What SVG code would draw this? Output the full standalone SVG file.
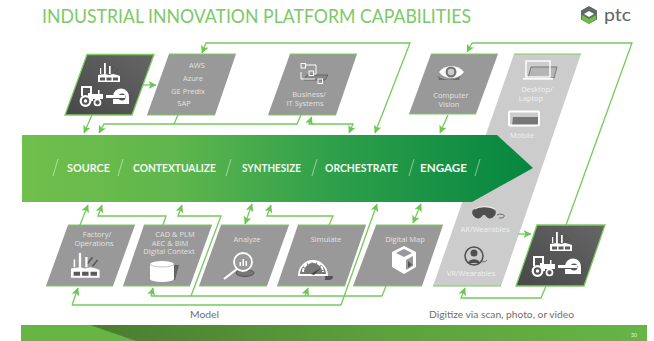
<svg xmlns="http://www.w3.org/2000/svg" width="654" height="341" viewBox="0 0 654 341">
<style>
.lbl{font-family:"Open Sans","Liberation Sans",sans-serif;font-size:7.500px;fill:#e2e2e2;text-anchor:middle}
.lt{fill:#f0f0f0}
.stage{font-family:Lato,"Liberation Sans",sans-serif;font-size:11px;font-weight:700;fill:#f4f9f1}
.cap{font-family:Lato,"Open Sans",sans-serif;font-size:9.500px;fill:#6e6e6e}
.edge{fill:none;stroke:#7ccb62;stroke-width:1.200}
.con path{fill:none;stroke:#74c95b;stroke-width:1.300;marker-end:url(#ah)}
.con path.n{marker-end:none}
.con path.b{marker-start:url(#ahs)}
.w{fill:#fff}
.wl{fill:none;stroke:#fff}
.s{fill:#555}
.sl{fill:none;stroke:#555}
.sld{fill:none;stroke:#fff;stroke-width:.8;opacity:.6}
</style>
<defs>
<marker id="ah" viewBox="0 0 8 8" refX="7.500" refY="4" markerWidth="8" markerHeight="8" markerUnits="userSpaceOnUse" orient="auto"><path d="M0 0L8 4L0 8L2 4Z" fill="#6cc653"/></marker>
<marker id="ahs" viewBox="0 0 8 8" refX="0.500" refY="4" markerWidth="8" markerHeight="8" markerUnits="userSpaceOnUse" orient="auto"><path d="M8 0L0 4L8 8L6 4Z" fill="#6cc653"/></marker>
<linearGradient id="band" x1="0" x2="1" y1="0" y2="0"><stop offset="0" stop-color="#71bf4b"/><stop offset=".3" stop-color="#5fb64c"/><stop offset=".6" stop-color="#2fa04a"/><stop offset="1" stop-color="#058640"/></linearGradient>
<linearGradient id="dark" x1="0" x2="1" y1="1" y2="0"><stop offset="0" stop-color="#484848"/><stop offset="1" stop-color="#666"/></linearGradient>
<linearGradient id="foot" x1="0" x2="1" y1="0" y2="0"><stop offset="0" stop-color="#4a7c30"/><stop offset=".5" stop-color="#5ba03c"/><stop offset="1" stop-color="#66b545"/></linearGradient>
<g id="factory">
<path class="s" d="M12 8l4-5 1 .6-4 5zM16 10l4-5 1 .6-4 5z"/>
<path class="w" d="M6 0h1.800v11H6zM11 3h1.700v8H11zM2 5h1.200v6H2zM0 19v-7l7-1 4 1 4-1 4 1 3 1v6z"/>
<path d="M2 14.500h5v3H2zM8.500 14.500h5v3h-5zM15 14.500h5v3h-5z" fill="#5a5a5a"/>
</g>
<g id="tractor">
<path class="s" d="M20 3l4 1.500-1 1.500-3-1.500z"/>
<path class="w" d="M2 0h11v8h6V4h1.500v4H24v5H14v2H9V7H4v3H2z"/>
<path d="M4 2h7v5H4z" fill="#555"/>
<circle cx="6.500" cy="15" r="4.800" fill="#555" stroke="#fff" stroke-width="2.200"/><circle cx="6.500" cy="15" r="1.700" class="w"/>
<circle cx="18.500" cy="16.500" r="3" fill="#555" stroke="#fff" stroke-width="1.700"/>
</g>
<g id="mri">
<path class="s" d="M20 3l7 3-3 10h-5z"/>
<path class="w" d="M7 16V8a8 8 0 0 1 16 1v7z"/>
<circle cx="16" cy="9" r="3.500" fill="#555"/>
<path class="w" d="M0 7h19v3H0z"/><path d="M0 10h14v1H0z" fill="#555"/>
</g>
</defs>
<rect width="654" height="341" fill="#fff"/>
<text x="42" y="22.500" font-family="Lato,'Open Sans',sans-serif" font-size="19" fill="#7cc968" textLength="429" lengthAdjust="spacingAndGlyphs">INDUSTRIAL INNOVATION PLATFORM CAPABILITIES</text>
<g id="ptc-logo">
<path d="M589 6l8 4.500v9L589 24l-8-4.500v-9z" fill="#5f6a66"/>
<path d="M582 15l7 4 7-4v4.500l-7 4.500-7-4.500z" fill="#6cbd45"/>
<path d="M584 14l5-3 5 3-5 3z" fill="#fff"/>
<text x="604" y="20.500" font-family="Lato,'Open Sans',sans-serif" font-size="18" fill="#5d6663" textLength="27" lengthAdjust="spacingAndGlyphs">ptc</text>
</g>
<g id="node-devices">
<path d="M514 54h67L501 286h-68z" fill="#ccc"/>
<path class="edge" d="M514 54h67M433 286h68"/>
<path d="M531 67h26l-3 11h-26z" fill="#b5b5b5" stroke="#666" stroke-width=".8"/>
<rect x="526" y="61" width="24" height="16" class="wl" stroke-width="1.400"/>
<rect x="523" y="78" width="30" height="1.600" class="w"/>
<path d="M513 117h27l-3 9h-25z" fill="#777"/>
<rect x="509" y="111.500" width="30" height="14" rx="1" class="wl" stroke-width="2"/>
<text class="lbl lt" x="537" y="92">Desktop/</text><text class="lbl lt" x="531" y="100.500">Laptop</text>
<text class="lbl lt" x="522" y="138">Mobile</text>
<path class="sl" d="M497 215a4 2 0 1 1 2 3" stroke-width=".8"/>
<path d="M473 210c6-4 16-4 22 0 2 3 0 6-3 8-3 1-5 0-7-3h-2c-2 3-4 4-7 3-3-2-5-5-3-8z" fill="#4f4f4f"/>
<path d="M475 209c5-3 15-3 20 0" class="wl" stroke-width=".8"/>
<text class="lbl lt" x="485" y="232">AR/Wearables</text>
<circle cx="474" cy="256" r="9" fill="#ccc" stroke="#4f4f4f" stroke-width="1.500"/>
<circle cx="474" cy="253" r="3.500" fill="#4f4f4f"/><path d="M468 263c1-5 11-5 12 0z" fill="#4f4f4f"/>
<path class="sl" d="M482 262a5 3 0 0 0 5-2" stroke-width=".8"/>
<text class="lbl lt" x="471" y="276">VR/Wearables</text>
</g>
<g id="node-arrow">
<path d="M22 135H497L533 168 472 202H22z" fill="url(#band)"/>
<g class="sld"><path d="M53 176l5-17M118 176l5-17M226 176l5-17M312 176l5-17M409 176l5-17M475 176l5-17"/></g>
<text class="stage" x="67" y="172" textLength="43" lengthAdjust="spacingAndGlyphs">SOURCE</text>
<text class="stage" x="133" y="172" textLength="83" lengthAdjust="spacingAndGlyphs">CONTEXTUALIZE</text>
<text class="stage" x="242" y="172" textLength="59" lengthAdjust="spacingAndGlyphs">SYNTHESIZE</text>
<text class="stage" x="325" y="172" textLength="73" lengthAdjust="spacingAndGlyphs">ORCHESTRATE</text>
<text class="stage" x="420" y="172" textLength="47" lengthAdjust="spacingAndGlyphs">ENGAGE</text>
</g>
<g id="node-assets-top">
<path d="M87 54.500h67l-22 60.500H65z" fill="url(#dark)" stroke="#7ccb62" stroke-width="1.300"/>
<use href="#factory" x="98" y="63"/><use href="#tractor" x="79" y="86"/><use href="#mri" x="106" y="88"/>
</g>
<g id="node-cloud">
<path d="M169 54h67l-21 61h-68z" fill="#999"/><path class="edge" d="M169 54h67M147 115h68"/>
<text class="lbl" x="197" y="68">AWS</text><text class="lbl" x="193" y="81">Azure</text><text class="lbl" x="188" y="94">GE Predix</text><text class="lbl" x="184" y="106">SAP</text>
</g>
<g id="node-business">
<path d="M290 54h67l-21 61h-68z" fill="#999"/><path class="edge" d="M290 54h67M269 115h67"/>
<path d="M307 75h21l-3 5h-21z" fill="#888" stroke="#555" stroke-width=".7"/>
<g class="wl" stroke-width="1"><rect x="301" y="63.500" width="4.500" height="4.500"/><rect x="309" y="71" width="4.500" height="4.500"/><rect x="318" y="79" width="4.500" height="4.500"/><path d="M306 65h10v9h-2M301 72v7h14"/></g>
<text class="lbl" x="309" y="97">Business/</text><text class="lbl" x="305" y="106">IT Systems</text>
</g>
<g id="node-vision">
<path d="M431 54h67l-22 60h-67z" fill="#999"/><path class="edge" d="M431 54h67M409 114h67"/>
<path d="M438 76c5 5 17 5 22 0l-1 4h-20z" fill="#555" opacity=".7"/>
<path class="w" d="M439 72c6-8 19-8 25 0-6 8-19 8-25 0z"/>
<circle cx="451" cy="72" r="5.500" fill="#777"/><circle cx="451" cy="72" r="3.200" fill="#ccc"/>
<text class="lbl" x="451" y="98">Computer</text><text class="lbl" x="449" y="107">Vision</text>
</g>
<g id="node-factory">
<path d="M68 225h67l-22 61H46z" fill="#999"/><path class="edge" d="M68 225h67M46 286h67"/>
<use href="#factory" transform="translate(71 253) scale(1.300)"/>
<text class="lbl" x="97" y="237">Factory/</text><text class="lbl" x="94" y="246">Operations</text>
</g>
<g id="node-cad">
<path d="M144 225h68l-22 61h-67z" fill="#999"/><path class="edge" d="M144 225h68M123 286h67"/>
<path class="s" d="M172 265h7l-4 15h-4z" opacity=".8"/>
<path class="w" d="M150 264a12 3 0 0 1 24 0v15a12 3 0 0 1-24 0z"/><path d="M150 264a12 3 0 0 0 24 0" fill="none" stroke="#999" stroke-width=".6"/>
<text class="lbl" x="175" y="237">CAD &amp; PLM</text><text class="lbl" x="170" y="245.500">AEC &amp; BIM</text><text class="lbl" x="169" y="254">Digital Context</text>
</g>
<g id="node-analyze">
<path d="M221 225h68l-22 61h-68z" fill="#999"/><path class="edge" d="M221 225h68M199 286h68"/>
<ellipse cx="245" cy="273" rx="9" ry="3.500" fill="#777" stroke="#555" stroke-width="1"/>
<circle cx="243" cy="262" r="9" fill="#999" stroke="#fff" stroke-width="1.800"/>
<path class="w" d="M239.500 262h1.500v4h-1.500zM242.500 259h1.500v7h-1.500zM245.500 261h1.500v5h-1.500z"/>
<path d="M237 269l-13 10" stroke="#fff" stroke-width="2.200"/>
<text class="lbl" x="247" y="242">Analyze</text>
</g>
<g id="node-simulate">
<path d="M298 225h68l-21 61h-68z" fill="#999"/><path class="edge" d="M298 225h68M277 286h68"/>
<path d="M325 276h8a4 4 0 0 1 -4 4h-4z" fill="#555"/>
<path d="M299 275a14 14 0 0 1 28 0z" fill="#777" stroke="#fff" stroke-width="1.800"/>
<path d="M303 272a10 10 0 0 1 20 0" fill="none" stroke="#fff" stroke-width="2" stroke-dasharray="4 1"/>
<path d="M311 274l10-6-7 7z" fill="#444"/>
<text class="lbl" x="326" y="242">Simulate</text>
</g>
<g id="node-map">
<path d="M376 225h67l-21 61h-69z" fill="#999"/><path class="edge" d="M376 225h67M353 286h69"/>
<path class="w" d="M392 252l12-6 12 6v15l-12 7-12-7z"/>
<path d="M396 253l8-4 8 4-8 4zM406 260l7-4v10l-7 4z" fill="#999"/>
<path d="M408 261v7l4-3.500z" fill="#555"/>
<text class="lbl" x="405" y="242">Digital Map</text>
</g>
<g id="node-assets-bottom">
<path d="M537 225h68l-21 61h-68z" fill="url(#dark)" stroke="#7ccb62" stroke-width="1.300"/>
<use href="#factory" x="550" y="232"/><use href="#tractor" x="531" y="256"/><use href="#mri" x="558" y="258"/>
</g>
<g id="connectors" class="con">
<path d="M92 115L84 133"/>
<path d="M143 85H156"/>
<path class="n" d="M178 115L174 124"/>
<path d="M301 115L297 124H104L99 133"/>
<path class="b" d="M202 53L206 43H410L375 133"/>
<path class="b" d="M311.500 117L309 124H353L349 133"/>
<path d="M448 115L440 133"/>
<path class="n" d="M566 225L632 43H472"/>
<path d="M472 43L467 52"/>
<path d="M80 225L88 205"/>
<path d="M163 225L166 216H98L102 205"/>
<path d="M191 296L221 216H178L182 205"/>
<path class="b" d="M245 224L252 204"/>
<path d="M329 225L333 216H267L271 205"/>
<path class="n" d="M72 305H341"/>
<path d="M341 305L377 204"/>
<path d="M72 305L78 288"/>
<path class="n" d="M382 296H151"/>
<path d="M151 296L153 288"/>
<path class="n" d="M386 286L382 296"/>
<path d="M305 296L308 288"/>
<path d="M546 286L541 298H461L465 288"/>
<path d="M518 234H531"/>
<path class="b" d="M413 223L421 204"/>
</g>
<g id="footer">
<rect x="21" y="325" width="626" height="16" fill="#66b545"/>
<path d="M90 325H647V341H136z" fill="url(#foot)"/>
<text x="631" y="337" font-family="Lato,sans-serif" font-size="5" fill="#e8f2e0">30</text>
</g>
<text class="cap" x="190" y="318" textLength="29" lengthAdjust="spacingAndGlyphs">Model</text>
<text class="cap" x="429" y="318" textLength="145" lengthAdjust="spacingAndGlyphs">Digitize via scan, photo, or video</text>
</svg>
